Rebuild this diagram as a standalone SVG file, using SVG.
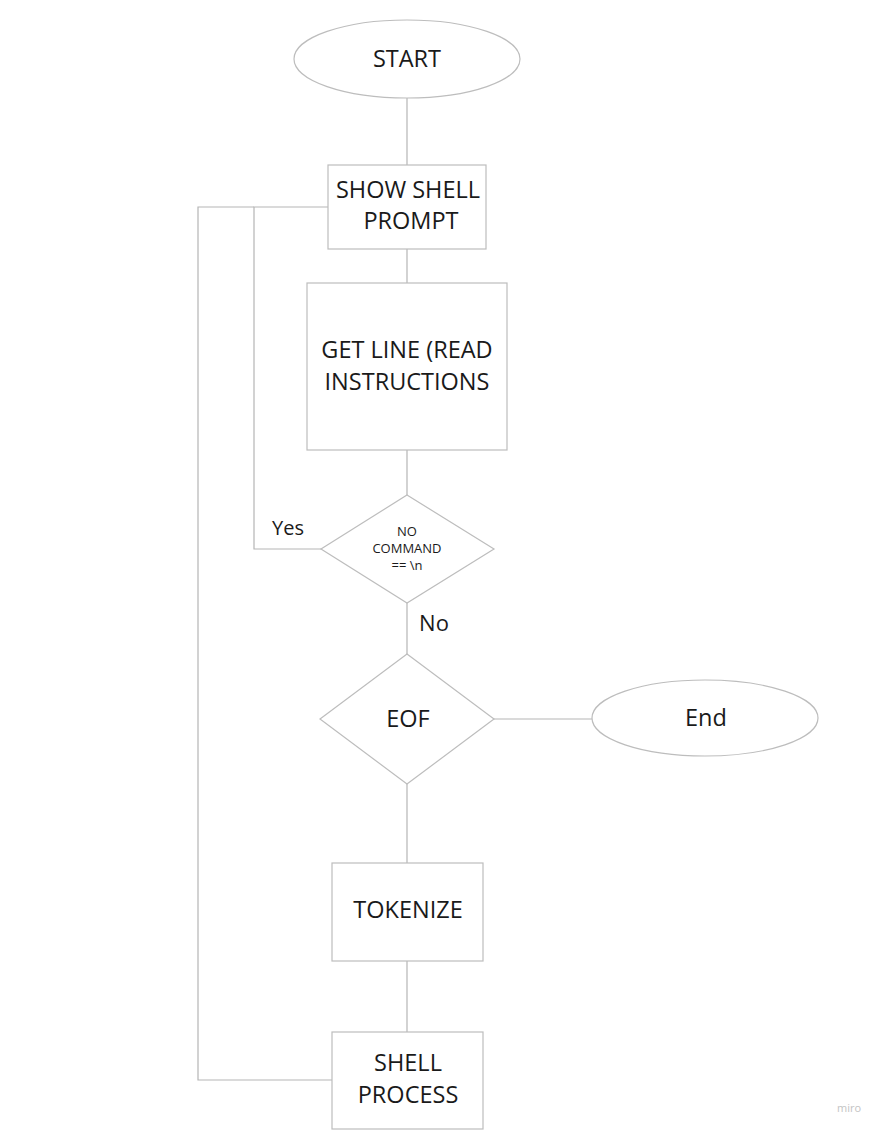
<svg xmlns="http://www.w3.org/2000/svg" width="883" height="1132" viewBox="0 0 883 1132">
<style>
.shape{fill:#ffffff;stroke:#bdbdbd;stroke-width:1.2}
.conn{fill:none;stroke:#b5b5b5;stroke-width:1.2}
.t{font-family:"Open Sans","Liberation Sans",sans-serif;fill:#1a1a1a;text-anchor:middle}
.big{font-size:23.5px}
.small{font-size:13px}
</style>
<rect width="883" height="1132" fill="#ffffff"/>
<g id="connectors">
<line class="conn" x1="407" y1="98" x2="407" y2="165"/>
<line class="conn" x1="407" y1="249" x2="407" y2="283"/>
<line class="conn" x1="407" y1="450" x2="407" y2="495"/>
<line class="conn" x1="407" y1="603" x2="407" y2="654"/>
<line class="conn" x1="494" y1="719" x2="592" y2="719"/>
<line class="conn" x1="407" y1="784" x2="407" y2="863"/>
<line class="conn" x1="407" y1="961" x2="407" y2="1032"/>
<polyline class="conn" points="321,549 254,549 254,207 328,207"/>
<polyline class="conn" points="332,1080 198,1080 198,207 254,207"/>
<text class="t" x="288" y="535" style="font-size:20px">Yes</text>
<text class="t" x="434" y="631" style="font-size:22px">No</text>
</g>
<g id="start">
<ellipse class="shape" cx="407" cy="59" rx="113" ry="39"/>
<text class="t big" x="407" y="67">START</text>
</g>
<g id="show-shell-prompt">
<rect class="shape" x="328" y="165" width="158" height="84"/>
<text class="t big" x="408" y="198">SHOW SHELL</text>
<text class="t big" x="411" y="229">PROMPT</text>
</g>
<g id="get-line">
<rect class="shape" x="307" y="283" width="200" height="167"/>
<text class="t big" x="407" y="358">GET LINE (READ</text>
<text class="t big" x="407" y="390">INSTRUCTIONS</text>
</g>
<g id="no-command">
<polygon class="shape" points="407,495 494,549 407,603 321,549"/>
<text class="t small" x="407" y="536">NO</text>
<text class="t small" x="407" y="553">COMMAND</text>
<text class="t small" x="407" y="570">== \n</text>
</g>
<g id="eof">
<polygon class="shape" points="407,654 494,719 407,784 320,719"/>
<text class="t big" x="408" y="727">EOF</text>
</g>
<g id="end">
<ellipse class="shape" cx="705" cy="718" rx="113" ry="38"/>
<text class="t big" x="706" y="726">End</text>
</g>
<g id="tokenize">
<rect class="shape" x="332" y="863" width="151" height="98"/>
<text class="t big" x="408" y="918">TOKENIZE</text>
</g>
<g id="shell-process">
<rect class="shape" x="332" y="1032" width="151" height="97"/>
<text class="t big" x="408" y="1071">SHELL</text>
<text class="t big" x="408" y="1103">PROCESS</text>
</g>
<text x="849" y="1112" style="font-family:'Open Sans','Liberation Sans',sans-serif;font-size:11px;fill:#c4c4c4;text-anchor:middle">miro</text>
</svg>
